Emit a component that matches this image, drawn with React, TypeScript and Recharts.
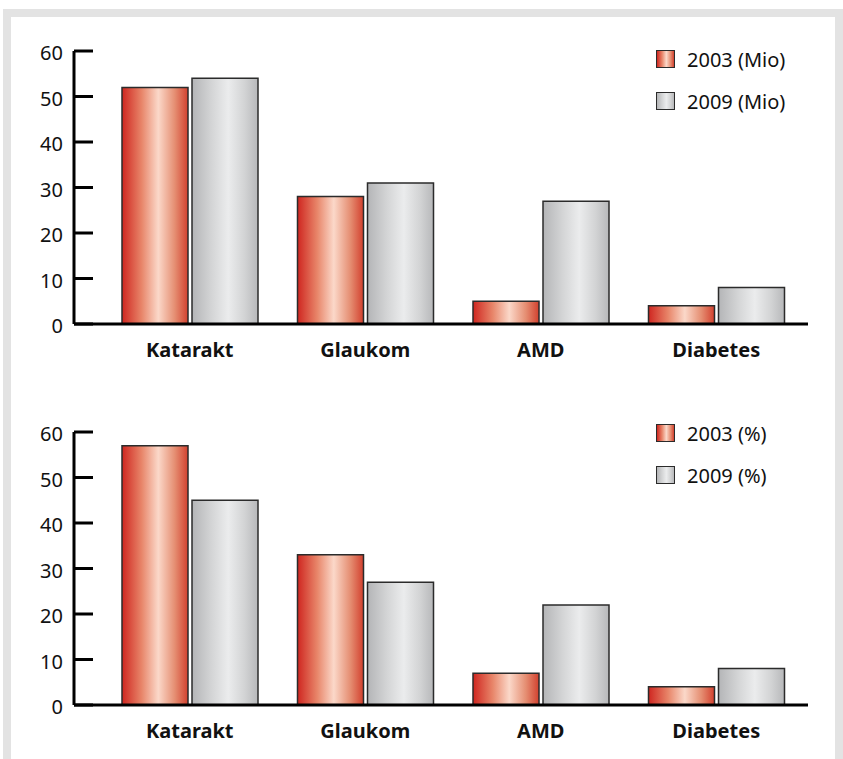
import React from 'react';
import { BarChart, Bar, XAxis, YAxis, Legend } from 'recharts';

const categories = ['Katarakt', 'Glaukom', 'AMD', 'Diabetes'];
const mio2003 = [52, 28, 5, 4];
const mio2009 = [54, 31, 27, 8];
const pct2003 = [57, 33, 7, 4];
const pct2009 = [45, 27, 22, 8];
const yTicks = [0, 10, 20, 30, 40, 50, 60];

const FONT = '"Noto Sans", "Liberation Sans", Arial, sans-serif';

const redStops = [
  ['0%', '#cf2620'],
  ['30%', '#e8866a'],
  ['55%', '#fbd8c9'],
  ['80%', '#e58e72'],
  ['100%', '#d2402e'],
];
const grayStops = [
  ['0%', '#b4b5b7'],
  ['30%', '#d4d5d6'],
  ['55%', '#ebeced'],
  ['80%', '#d2d3d4'],
  ['100%', '#b7b8ba'],
];
const toCss = (stops: string[][]) =>
  `linear-gradient(to right, ${stops.map(([o, c]) => `${c} ${o}`).join(', ')})`;

// y ticks point into the plot, label sits left of the axis
function YTick(props: any) {
  const { x, y, payload } = props;
  return (
    <g>
      <line x1={x + 11} x2={x + 30} y1={y} y2={y} stroke="#000" strokeWidth={3} />
      <text x={x} y={y} dy={9} textAnchor="end" fontSize={20} fontFamily={FONT} fill="#111">
        {payload.value}
      </text>
    </g>
  );
}

// small upward hook at the right end of the x axis
function EndTick(props: any) {
  const { x, y } = props;
  return <line x1={x} x2={x} y1={y + 1.5} y2={y - 6} stroke="#000" strokeWidth={2.5} />;
}

function renderLegend(props: any) {
  const { payload = [] } = props;
  return (
    <div>
      {payload.map((p: any) => (
        <div key={p.value} style={{ display: 'flex', alignItems: 'center', height: 42 }}>
          <span
            style={{
              display: 'inline-block',
              width: 17,
              height: 16,
              border: '1.5px solid #2b2b2b',
              background: p.dataKey === 'a' ? toCss(redStops) : toCss(grayStops),
            }}
          />
          <span style={{ marginLeft: 12, fontSize: 20, fontFamily: FONT, color: '#111' }}>{p.value}</span>
        </div>
      ))}
    </div>
  );
}

interface PanelProps {
  id: string;
  top: number;
  legendTop: number;
  a: number[];
  b: number[];
  nameA: string;
  nameB: string;
}

function Panel({ id, top, legendTop, a, b, nameA, nameB }: PanelProps) {
  const data = categories.map((c, i) => ({ name: c, a: a[i], b: b[i] }));
  return (
    <div style={{ position: 'absolute', left: 0, top }}>
      <BarChart
        width={843}
        height={380}
        data={data}
        margin={{ top: 51, right: 35, left: 0, bottom: 16 }}
        barCategoryGap={20}
        barGap={4}
      >
        <defs>
          <linearGradient id={`red-${id}`} x1="0" y1="0" x2="1" y2="0">
            {redStops.map(([o, c]) => (
              <stop key={o} offset={o} stopColor={c} />
            ))}
          </linearGradient>
          <linearGradient id={`gray-${id}`} x1="0" y1="0" x2="1" y2="0">
            {grayStops.map(([o, c]) => (
              <stop key={o} offset={o} stopColor={c} />
            ))}
          </linearGradient>
        </defs>
        <XAxis
          dataKey="name"
          height={40}
          interval={0}
          padding={{ left: 28, right: 4 }}
          axisLine={{ stroke: '#000', strokeWidth: 3 }}
          tickLine={false}
          tickSize={0}
          tickMargin={19}
          tick={{ fontSize: 20, fontWeight: 'bold', fill: '#111', fontFamily: FONT }}
        />
        <YAxis
          width={74}
          domain={[0, 60]}
          ticks={yTicks}
          interval={0}
          axisLine={{ stroke: '#000', strokeWidth: 3 }}
          tickLine={false}
          tickSize={0}
          tickMargin={11}
          tick={<YTick />}
        />
        <YAxis
          yAxisId="end"
          orientation="right"
          width={0}
          domain={[0, 60]}
          ticks={[0]}
          axisLine={false}
          tickLine={false}
          tickSize={0}
          tickMargin={0}
          tick={<EndTick />}
        />
        <Legend
          layout="vertical"
          align="center"
          verticalAlign="middle"
          content={renderLegend}
          wrapperStyle={{ top: legendTop, left: 656, width: 180 }}
        />
        <Bar dataKey="a" name={nameA} fill={`url(#red-${id})`} stroke="#2b2b2b" strokeWidth={1.5} isAnimationActive={false} />
        <Bar dataKey="b" name={nameB} fill={`url(#gray-${id})`} stroke="#2b2b2b" strokeWidth={1.5} isAnimationActive={false} />
      </BarChart>
    </div>
  );
}

export default function App() {
  return (
    <div style={{ position: 'absolute', left: 0, top: 0, width: 843, height: 759, background: '#fff', overflow: 'hidden' }}>
      <div style={{ position: 'absolute', left: 3, top: 9, width: 840, height: 750, background: '#e3e3e3' }} />
      <div style={{ position: 'absolute', left: 11, top: 17, width: 824, height: 742, background: '#fff' }} />
      <Panel id="mio" top={0} legendTop={38} a={mio2003} b={mio2009} nameA="2003 (Mio)" nameB="2009 (Mio)" />
      <Panel id="pct" top={381} legendTop={31} a={pct2003} b={pct2009} nameA="2003 (%)" nameB="2009 (%)" />
    </div>
  );
}
